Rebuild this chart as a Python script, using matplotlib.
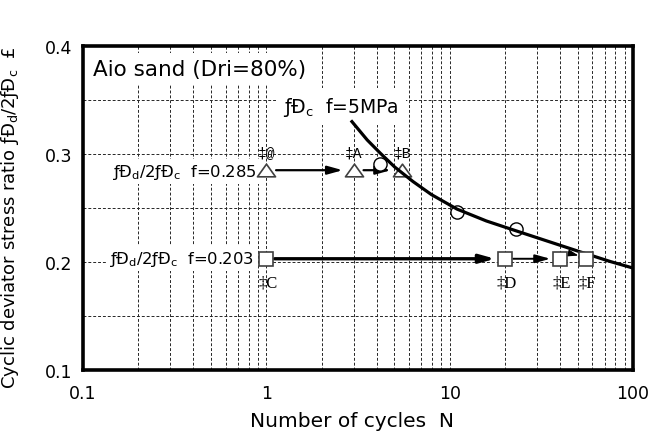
import matplotlib
matplotlib.use("Agg")
import matplotlib.pyplot as plt
from matplotlib.path import Path

# ---------------- data ----------------
x_ticks = [0.1, 1, 10, 100]
x_tick_labels = ["0.1", "1", "10", "100"]
y_ticks = [0.1, 0.2, 0.3, 0.4]
y_tick_labels = ["0.1", "0.2", "0.3", "0.4"]
y_minor = [0.15, 0.25, 0.35]

triangle_N = [1, 3, 5.5]
triangle_ratio = [0.285, 0.285, 0.285]
triangle_labels = ["‡@", "‡A", "‡B"]

square_N = [1, 20, 40, 55.5]
square_ratio = [0.203, 0.203, 0.203, 0.203]
square_labels = ["‡C", "‡D", "‡E", "‡F"]

circle_N = [4.17, 11.0, 23.0]
circle_ratio = [0.291, 0.246, 0.231]

curve_N = [2.93, 3.55, 4.17, 5.01, 6.31, 7.94, 10.96, 15.85, 22.9, 33.9, 51.3, 75.0, 100.0]
curve_ratio = [0.330, 0.313, 0.301, 0.288, 0.2745, 0.2625, 0.249, 0.238, 0.229, 0.2195, 0.2095, 0.2005, 0.1944]

title_text = "Aio sand (Dri=80%)"
curve_text = "ƒÐ$_\\mathrm{c}$  f=5MPa"
tri_text = "ƒÐ$_\\mathrm{d}$/2ƒÐ$_\\mathrm{c}$  f=0.285"
sq_text = "ƒÐ$_\\mathrm{d}$/2ƒÐ$_\\mathrm{c}$  f=0.203"
x_label = "Number of cycles  N"
y_label = "Cyclic deviator stress ratio ƒÐ$_\\mathrm{d}$/2ƒÐ$_\\mathrm{c}$  £"

# ---------------- figure ----------------
fig = plt.figure(figsize=(6.62, 4.39), dpi=100)
ax = fig.add_axes([83 / 662, (439 - 371) / 439, 550 / 662, 324 / 439])
ax.set_xscale("log")
ax.set_xlim(0.1, 100)
ax.set_ylim(0.1, 0.4)

ax.set_xticks(x_ticks)
ax.set_xticklabels(x_tick_labels)
ax.set_yticks(y_ticks)
ax.set_yticklabels(y_tick_labels)
ax.set_yticks(y_minor, minor=True)
ax.tick_params(which="both", length=0, labelsize=12.5)
ax.tick_params(axis="x", pad=10)
ax.tick_params(axis="y", pad=8)

ax.grid(which="both", axis="both", linestyle=(0, (3, 2)), color="0.15", lw=0.7)
ax.set_axisbelow(True)
for s in ax.spines.values():
    s.set_linewidth(2.6)

# curve
ax.plot(curve_N, curve_ratio, color="black", lw=2.3, zorder=5,
        solid_joinstyle="round")

# markers
tri_marker = Path([(-1, -0.7), (1, -0.7), (0, 0.7), (-1, -0.7)],
                  [Path.MOVETO, Path.LINETO, Path.LINETO, Path.CLOSEPOLY])
ax.plot(triangle_N, triangle_ratio, linestyle="none", marker=tri_marker,
        markersize=13, mfc="white", mec="0.25", mew=1.2, zorder=4)
ax.plot(square_N, square_ratio, linestyle="none", marker="s",
        markersize=9.5, mfc="white", mec="0.25", mew=1.2, zorder=6)
ax.plot(circle_N, circle_ratio, linestyle="none", marker="o",
        markersize=9.5, mfc="white", mec="black", mew=1.0, zorder=4)

# arrows between triangles
for i in range(len(triangle_N) - 1):
    ax.annotate("", xy=(triangle_N[i + 1], triangle_ratio[i + 1]),
                xytext=(triangle_N[i], triangle_ratio[i]),
                arrowprops=dict(arrowstyle="-|>,head_length=0.9,head_width=0.25",
                                lw=1.6, color="black", shrinkA=7, shrinkB=8),
                zorder=3)
# arrows between squares
sq_lw = [2.4, 1.4]
for i in range(2):
    ax.annotate("", xy=(square_N[i + 1], square_ratio[i + 1]),
                xytext=(square_N[i], square_ratio[i]),
                arrowprops=dict(arrowstyle="-|>,head_length=0.9,head_width=0.25",
                                lw=sq_lw[i], color="black", shrinkA=6, shrinkB=7),
                zorder=3)
ax.annotate("", xy=(square_N[3], square_ratio[3]),
            xytext=(square_N[2], square_ratio[2]),
            arrowprops=dict(arrowstyle="-|>,head_length=0.6,head_width=0.2",
                            lw=0.9, color="black", shrinkA=6, shrinkB=6,
                            connectionstyle="arc3,rad=-0.3"),
            zorder=3)

# labels of points
for n, r, t in zip(triangle_N, triangle_ratio, triangle_labels):
    ax.annotate(t, (n, r), xytext=(0, 13), textcoords="offset points",
                ha="center", va="center", fontsize=10.5,
                family="Liberation Mono", zorder=7)
for n, r, t in zip(square_N, square_ratio, square_labels):
    ax.annotate(t, (n, r), xytext=(1, -17), textcoords="offset points",
                ha="center", va="center", fontsize=12,
                family="Liberation Serif", zorder=7)

wb = dict(facecolor="white", edgecolor="none", pad=2)
ax.annotate(tri_text, (triangle_N[0], triangle_ratio[0]), xytext=(-7, -1),
            textcoords="offset points", ha="right", va="center",
            fontsize=11.8, bbox=wb, zorder=3)
ax.annotate(sq_text, (square_N[0], square_ratio[0]), xytext=(-9, 0),
            textcoords="offset points", ha="right", va="center",
            fontsize=11.8, bbox=wb, zorder=3)
ax.text(0.364, 0.812, curve_text, transform=ax.transAxes, ha="left",
        va="center", fontsize=13.5, zorder=3,
        bbox=dict(facecolor="white", edgecolor="none", pad=5))
ax.text(0.018, 0.929, title_text, transform=ax.transAxes, ha="left",
        va="center", fontsize=15.5, zorder=3,
        bbox=dict(facecolor="white", edgecolor="none", pad=4))

ax.set_xlabel(x_label, fontsize=14.5)
ax.xaxis.set_label_coords(0.489, -0.127)
ax.set_ylabel(y_label, fontsize=13)
ax.yaxis.set_label_coords(-0.113, 0.472)

fig.savefig("out.png", dpi=100)
